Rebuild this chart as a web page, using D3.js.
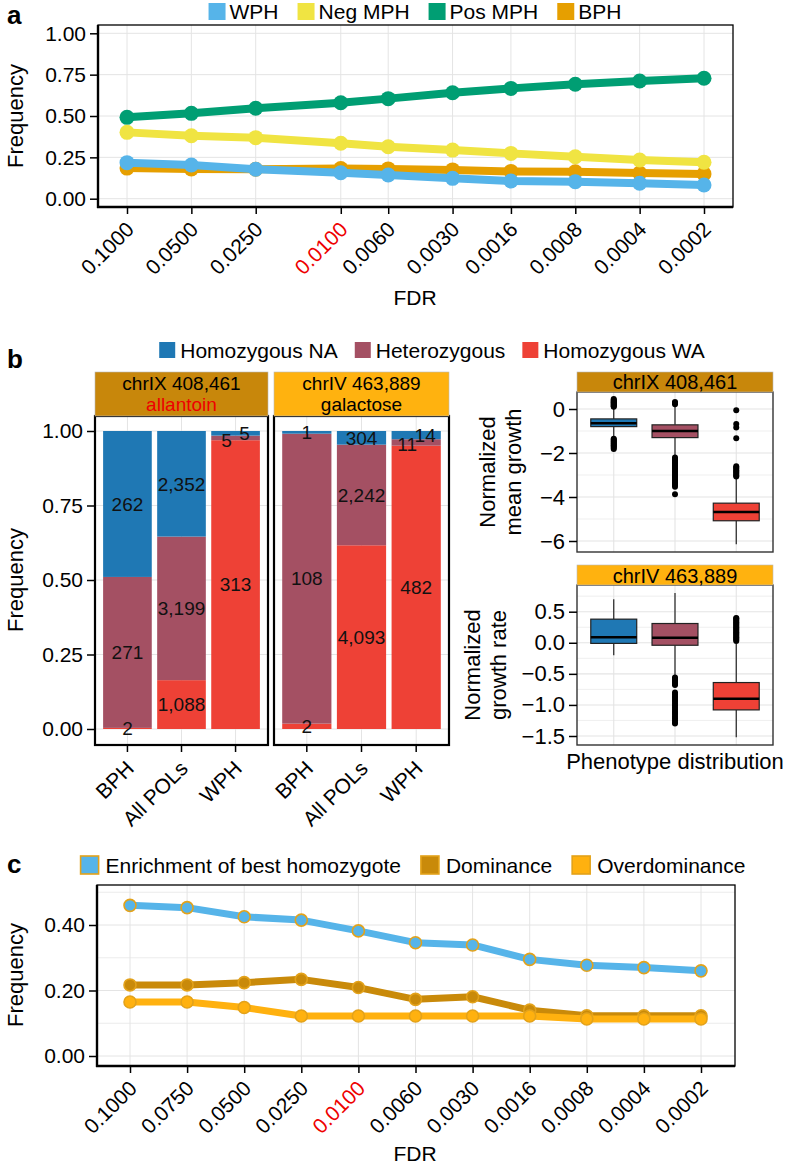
<!DOCTYPE html>
<html><head><meta charset="utf-8">
<script src="https://cdn.jsdelivr.net/npm/d3@7"></script>
<style>
body{margin:0;background:#fff;}
svg{display:block;font-family:"Liberation Sans",Arial,Helvetica,sans-serif;}
</style></head><body>
<svg id="fig" width="788" height="1166"></svg>
<script>
// ================= DATA =================
// Panel a
const fdrA = [0.1, 0.05, 0.025, 0.01, 0.006, 0.003, 0.0016, 0.0008, 0.0004, 0.0002];
const fdrALabels = ["0.1000","0.0500","0.0250","0.0100","0.0060","0.0030","0.0016","0.0008","0.0004","0.0002"];
const seriesA = ["WPH","Neg MPH","Pos MPH","BPH"];
const wphA    = [0.218, 0.204, 0.178, 0.157, 0.143, 0.123, 0.107, 0.103, 0.093, 0.083];
const negMphA = [0.401, 0.381, 0.369, 0.335, 0.314, 0.294, 0.274, 0.254, 0.234, 0.220];
const posMphA = [0.492, 0.516, 0.547, 0.580, 0.605, 0.641, 0.667, 0.692, 0.712, 0.728];
const bphA    = [0.185, 0.180, 0.178, 0.182, 0.180, 0.174, 0.165, 0.163, 0.155, 0.150];
const freqTicksA = [0, 0.25, 0.5, 0.75, 1];

// Panel b (stacked bars, counts)
const genotypes = ["Homozygous NA","Heterozygous","Homozygous WA"];
const barGroups = ["BPH","All POLs","WPH"];
const facetsB = ["chrIX 408,461", "chrIV 463,889"];
const facetsBSub = ["allantoin", "galactose"];
const allantoinNA  = [262, 2352, 5];
const allantoinHet = [271, 3199, 5];
const allantoinWA  = [2, 1088, 313];
const galactoseNA  = [1, 304, 14];
const galactoseHet = [108, 2242, 11];
const galactoseWA  = [2, 4093, 482];
const freqTicksB = [0, 0.25, 0.5, 0.75, 1];

// Panel b right: box plots (chrIX: normalized mean growth)
const mgLow  = [-1.30, -2.12, -6.15];
const mgQ1   = [-0.80, -1.30, -5.08];
const mgMed  = [-0.65, -1.00, -4.68];
const mgQ3   = [-0.45, -0.72, -4.28];
const mgHigh = [0.05, 0.15, -3.12];
const mgOutNA  = [0.10,0.13,0.17,0.20,0.24,0.27,0.31,0.34,0.38,0.41,0.45,-1.35,-1.39,-1.44,-1.48,-1.53,-1.57,-1.62,-1.66,-1.71,-1.76,-1.82];
const mgOutHet = [0.22,0.27,0.32,-2.20,-2.27,-2.34,-2.41,-2.48,-2.55,-2.62,-2.69,-2.76,-2.83,-2.90,-2.97,-3.04,-3.11,-3.18,-3.25,-3.32,-3.39,-3.46,-3.53,-3.88];
const mgOutWA  = [-0.06,-0.68,-0.84,-1.33,-2.60,-2.66,-2.72,-2.78,-2.84,-2.90,-2.96,-3.02,-3.07];
const mgTicks = [0, -2, -4, -6];
// chrIV: normalized growth rate
const grLow  = [-0.20, -0.52, -1.52];
const grQ1   = [-0.01, -0.04, -1.08];
const grMed  = [0.09, 0.08, -0.90];
const grQ3   = [0.38, 0.31, -0.64];
const grHigh = [0.70, 0.80, -0.02];
const grOutNA  = [];
const grOutHet = [-0.56,-0.58,-0.60,-0.62,-0.64,-0.66,-0.68,-0.80,-0.83,-0.86,-0.89,-0.92,-0.95,-0.98,-1.01,-1.04,-1.07,-1.10,-1.13,-1.16,-1.19,-1.22,-1.25,-1.28,-1.30];
const grOutWA  = [0.03,0.05,0.07,0.09,0.11,0.13,0.15,0.17,0.19,0.21,0.23,0.25,0.27,0.29,0.31,0.33,0.35,0.37,0.39,0.40];
const grTicks = [0.5, 0, -0.5, -1, -1.5];

// Panel c
const fdrCLabels = ["0.1000","0.0750","0.0500","0.0250","0.0100","0.0060","0.0030","0.0016","0.0008","0.0004","0.0002"];
const seriesC = ["Enrichment of best homozygote","Dominance","Overdominance"];
const enrichC = [0.460, 0.453, 0.425, 0.415, 0.382, 0.346, 0.339, 0.295, 0.277, 0.270, 0.260];
const domC    = [0.217, 0.217, 0.224, 0.234, 0.209, 0.173, 0.181, 0.140, 0.123, 0.123, 0.123];
const overC   = [0.165, 0.165, 0.148, 0.122, 0.122, 0.122, 0.122, 0.122, 0.113, 0.113, 0.113];
const freqTicksC = [0, 0.2, 0.4];
const freqMinorC = [0.1, 0.3, 0.5];

// ================= STYLE =================
const GRID = "#e4e4e4";
const colA = {"WPH":"#56B4E9","Neg MPH":"#F0E442","Pos MPH":"#009E73","BPH":"#E69F00"};
const colGeno = {"Homozygous NA":"#1F78B4","Heterozygous":"#A45063","Homozygous WA":"#EE4136"};
const stripCols = ["#C8870B", "#FFB20F"];
const colC = {"Enrichment of best homozygote":"#56B4E9","Dominance":"#C98A0A","Overdominance":"#FFB10F"};
const strokeC = "#E3A21A";
const FS_TICK = 21, FS_TITLE = 21, FS_LEG = 21, FS_STRIP = 20, FS_LAB = 19;

const svg = d3.select("#fig");

// ================= HELPERS =================
function hLines(g, vals, y, x0, x1, w) {
  g.append("g").selectAll("line").data(vals).join("line")
    .attr("x1", x0).attr("x2", x1).attr("y1", d => y(d)).attr("y2", d => y(d))
    .attr("stroke", GRID).attr("stroke-width", w || 1);
}
function vLines(g, vals, x, y0, y1, w) {
  g.append("g").selectAll("line").data(vals).join("line")
    .attr("y1", y0).attr("y2", y1).attr("x1", d => x(d)).attr("x2", d => x(d))
    .attr("stroke", GRID).attr("stroke-width", w || 1);
}
function styleAxis(a, fs) {
  a.attr("font-size", null).attr("font-family", null);
  a.select(".domain").remove();
  a.selectAll(".tick line").attr("stroke", "#000").attr("stroke-width", 1.5);
  a.selectAll(".tick text").attr("fill", "#000").style("font-size", fs + "px");
}
function rotLabels(a, dy) {
  a.selectAll(".tick text").attr("text-anchor", "end").attr("x", 0).attr("y", 0)
    .attr("dy", "0.72em").attr("transform", `translate(-3,${dy}) rotate(-45)`);
}
function axisFrame(g, b) {
  g.append("rect").attr("x", b.x0).attr("y", b.y0).attr("width", b.x1 - b.x0).attr("height", b.y1 - b.y0)
    .attr("fill", "none").attr("stroke", "#000").attr("stroke-width", 1.3);
  g.append("line").attr("x1", b.x0).attr("x2", b.x0).attr("y1", b.y0).attr("y2", b.y1 + 1)
    .attr("stroke", "#000").attr("stroke-width", 2.4);
  g.append("line").attr("x1", b.x0 - 1).attr("x2", b.x1).attr("y1", b.y1).attr("y2", b.y1)
    .attr("stroke", "#000").attr("stroke-width", 2.4);
}
function legend(items, fills, strokes, cx, yTop, sq, gap, spacing, fs) {
  const g = svg.append("g");
  let x = 0;
  items.forEach((it, i) => {
    g.append("rect").attr("x", x).attr("y", yTop).attr("width", sq).attr("height", sq)
      .attr("fill", fills[i]).attr("stroke", strokes ? strokes[i] : "none").attr("stroke-width", strokes ? 1.6 : 0);
    const t = g.append("text").attr("x", x + sq + gap).attr("y", yTop + sq / 2).attr("dy", "0.36em")
      .style("font-size", fs + "px").attr("fill", "#000").text(it);
    x += sq + gap + t.node().getComputedTextLength() + spacing;
  });
  const w = x - spacing;
  g.attr("transform", `translate(${cx - w / 2},0)`);
}
function yTitle(lines, x0, cy, fs, lh) {
  lines.forEach((s, i) => {
    svg.append("text").attr("transform", `translate(${x0 + i * lh},${cy}) rotate(-90)`)
      .attr("text-anchor", "middle").style("font-size", fs + "px").attr("fill", "#000").text(s);
  });
}
function panelLetter(s, x, y) {
  svg.append("text").attr("x", x).attr("y", y).style("font-size", "26px").style("font-weight", "bold").attr("fill", "#000").text(s);
}

// ================= PANEL A =================
(function () {
  const b = {x0: 98, x1: 733, y0: 25, y1: 207};
  const x = d3.scaleLog().domain([fdrA[0], fdrA[fdrA.length - 1]]).range([127, 704]);
  const y = d3.scaleLinear().domain([0, 1]).range([198.7, 33.3]);
  const g = svg.append("g");
  hLines(g, freqTicksA, y, b.x0, b.x1);
  vLines(g, fdrA, x, b.y0, b.y1);
  const vals = {"WPH": wphA, "Neg MPH": negMphA, "Pos MPH": posMphA, "BPH": bphA};
  ["BPH", "Pos MPH", "Neg MPH", "WPH"].forEach(k => {
    const pts = fdrA.map((f, i) => [f, vals[k][i]]);
    g.append("path").attr("d", d3.line().x(d => x(d[0])).y(d => y(d[1]))(pts))
      .attr("fill", "none").attr("stroke", colA[k]).attr("stroke-width", 8).attr("stroke-linejoin", "round");
    g.append("g").selectAll("circle").data(pts).join("circle")
      .attr("cx", d => x(d[0])).attr("cy", d => y(d[1])).attr("r", 7.5).attr("fill", colA[k]);
  });
  axisFrame(g, b);
  const ya = g.append("g").attr("transform", `translate(${b.x0},0)`)
    .call(d3.axisLeft(y).tickValues(freqTicksA).tickFormat(d3.format(".2f")).tickSize(8).tickPadding(4));
  styleAxis(ya, FS_TICK);
  const xa = g.append("g").attr("transform", `translate(0,${b.y1})`)
    .call(d3.axisBottom(x).tickValues(fdrA).tickFormat((d, i) => fdrALabels[i]).tickSize(7));
  styleAxis(xa, FS_TICK);
  rotLabels(xa, 13);
  xa.selectAll(".tick text").attr("fill", (d, i) => fdrALabels[i] === "0.0100" ? "#EE0000" : "#000");
  svg.append("text").attr("x", 415).attr("y", 305).attr("text-anchor", "middle")
    .style("font-size", FS_TITLE + "px").text("FDR");
  yTitle(["Frequency"], 23, 116, FS_TITLE + 1, 0);
  legend(seriesA, seriesA.map(s => colA[s]), null, 415, 3, 17, 4, 19, FS_LEG);
  panelLetter("a", 7, 24);
})();

// ================= PANEL B (bars) =================
(function () {
  const y = d3.scaleLinear().domain([0, 1]).range([729, 431]);
  const boxes = [{x0: 95, x1: 268}, {x0: 274, x1: 449}];
  const data = [
    {NA: allantoinNA, Het: allantoinHet, WA: allantoinWA},
    {NA: galactoseNA, Het: galactoseHet, WA: galactoseWA}
  ];
  const top = 416, bot = 745, stripTop = 372;
  boxes.forEach((bx, fi) => {
    const g = svg.append("g");
    const x = d3.scaleBand().domain(barGroups).range([bx.x0, bx.x1]).paddingInner(0.1).paddingOuter(0.15);
    const cx = d => x(d) + x.bandwidth() / 2;
    hLines(g, freqTicksB, y, bx.x0, bx.x1);
    vLines(g, barGroups, cx, top, bot);
    const rows = barGroups.map((grp, i) => {
      const tot = data[fi].NA[i] + data[fi].Het[i] + data[fi].WA[i];
      return {grp, WA: data[fi].WA[i] / tot, Het: data[fi].Het[i] / tot, NA: data[fi].NA[i] / tot,
              cWA: data[fi].WA[i], cHet: data[fi].Het[i], cNA: data[fi].NA[i]};
    });
    const keys = ["WA", "Het", "NA"];
    const gname = {WA: "Homozygous WA", Het: "Heterozygous", NA: "Homozygous NA"};
    const stacked = d3.stack().keys(keys)(rows);
    stacked.forEach(layer => {
      g.append("g").selectAll("rect").data(layer).join("rect")
        .attr("x", d => x(d.data.grp)).attr("width", x.bandwidth())
        .attr("y", d => y(d[1])).attr("height", d => y(d[0]) - y(d[1]))
        .attr("fill", colGeno[gname[layer.key]]);
    });
    stacked.forEach(layer => {
      g.append("g").selectAll("text").data(layer).join("text")
        .attr("x", d => {
          let dx = 0;
          const frac = d[1] - d[0];
          if (d.data.grp === "WPH" && frac < 0.05) dx = layer.key === "Het" ? -9 : (layer.key === "NA" ? 9 : 0);
          return cx(d.data.grp) + dx;
        })
        .attr("y", d => y((d[0] + d[1]) / 2) + (d.data.grp === "WPH" && layer.key === "Het" && (d[1]-d[0]) < 0.05 ? 2 : 0))
        .attr("dy", "0.36em").attr("text-anchor", "middle").style("font-size", FS_LAB + "px").attr("fill", "#111")
        .text(d => d3.format(",")(d.data["c" + layer.key]));
    });
    g.append("rect").attr("x", bx.x0).attr("y", top).attr("width", bx.x1 - bx.x0).attr("height", bot - top)
      .attr("fill", "none").attr("stroke", "#000").attr("stroke-width", 2.2);
    // strip
    g.append("rect").attr("x", bx.x0).attr("y", stripTop).attr("width", bx.x1 - bx.x0).attr("height", top - stripTop)
      .attr("fill", stripCols[fi]).attr("stroke", "#b9b9b9").attr("stroke-width", 0.6);
    const mid = (bx.x0 + bx.x1) / 2;
    g.append("text").attr("x", mid).attr("y", 389.5).attr("text-anchor", "middle").style("font-size", "19px").text(facetsB[fi]);
    g.append("text").attr("x", mid).attr("y", 411).attr("text-anchor", "middle").style("font-size", "19px")
      .attr("fill", fi === 0 ? "#EE0000" : "#000").text(facetsBSub[fi]);
    const xa = g.append("g").attr("transform", `translate(0,${bot})`).call(d3.axisBottom(x).tickSize(7));
    styleAxis(xa, FS_TICK);
    rotLabels(xa, 14);
  });
  const ya = svg.append("g").attr("transform", `translate(95,0)`)
    .call(d3.axisLeft(y).tickValues(freqTicksB).tickFormat(d3.format(".2f")).tickSize(8).tickPadding(4));
  styleAxis(ya, FS_TICK);
  yTitle(["Frequency"], 23, 580, FS_TITLE + 1, 0);
  legend(genotypes, genotypes.map(s => colGeno[s]), null, 432, 342, 16, 5, 17, FS_LEG);
  panelLetter("b", 7, 368);
})();

// ================= PANEL B (box plots) =================
(function () {
  const x0 = 577, x1 = 773;
  const x = d3.scaleBand().domain(genotypes).range([x0, x1]).paddingInner(0.25).paddingOuter(0.225);
  const cx = d => x(d) + x.bandwidth() / 2;
  const panels = [
    {top: 392, bot: 552, stripTop: 372, y: d3.scaleLinear().domain([0, -6]).range([409, 541]),
     ticks: mgTicks, minor: [-1, -3, -5], fmt: d3.format("d"),
     low: mgLow, q1: mgQ1, med: mgMed, q3: mgQ3, high: mgHigh, out: [mgOutNA, mgOutHet, mgOutWA],
     title: facetsB[0], ylab: ["Normalized", "mean growth"], yl: 495, textY: 389},
    {top: 585, bot: 745, stripTop: 565, y: d3.scaleLinear().domain([0.5, -1.5]).range([611.7, 736]),
     ticks: grTicks, minor: [0.75, 0.25, -0.25, -0.75, -1.25], fmt: d3.format(".1f"),
     low: grLow, q1: grQ1, med: grMed, q3: grQ3, high: grHigh, out: [grOutNA, grOutHet, grOutWA],
     title: facetsB[1], ylab: ["Normalized", "growth rate"], yl: 480, textY: 583}
  ];
  panels.forEach((p, pi) => {
    const g = svg.append("g");
    const y = p.y;
    hLines(g, p.minor.filter(v => y(v) > p.top && y(v) < p.bot), y, x0, x1, 0.6);
    hLines(g, p.ticks, y, x0, x1, 1.1);
    vLines(g, genotypes, cx, p.top, p.bot, 1.1);
    genotypes.forEach((gn, i) => {
      const c = cx(gn), hw = x.bandwidth() / 2;
      g.append("line").attr("x1", c).attr("x2", c).attr("y1", y(p.high[i])).attr("y2", y(p.q3[i])).attr("stroke", "#222").attr("stroke-width", 1.2);
      g.append("line").attr("x1", c).attr("x2", c).attr("y1", y(p.q1[i])).attr("y2", y(p.low[i])).attr("stroke", "#222").attr("stroke-width", 1.2);
      g.append("rect").attr("x", c - hw).attr("width", 2 * hw).attr("y", y(p.q3[i])).attr("height", y(p.q1[i]) - y(p.q3[i]))
        .attr("fill", colGeno[gn]).attr("stroke", "#222").attr("stroke-width", 1.2);
      g.append("line").attr("x1", c - hw).attr("x2", c + hw).attr("y1", y(p.med[i])).attr("y2", y(p.med[i])).attr("stroke", "#000").attr("stroke-width", 2.4);
      g.append("g").selectAll("circle").data(p.out[i]).join("circle")
        .attr("cx", c).attr("cy", d => y(d)).attr("r", 3).attr("fill", "#000");
    });
    g.append("rect").attr("x", x0).attr("y", p.top).attr("width", x1 - x0).attr("height", p.bot - p.top)
      .attr("fill", "none").attr("stroke", "#333").attr("stroke-width", 1.4);
    g.append("rect").attr("x", x0).attr("y", p.stripTop).attr("width", x1 - x0).attr("height", p.top - p.stripTop)
      .attr("fill", stripCols[pi]).attr("stroke", "#b9b9b9").attr("stroke-width", 0.6);
    g.append("text").attr("x", (x0 + x1) / 2).attr("y", p.textY).attr("text-anchor", "middle").style("font-size", FS_STRIP + "px").text(p.title);
    const ya = g.append("g").attr("transform", `translate(${x0},0)`)
      .call(d3.axisLeft(y).tickValues(p.ticks).tickFormat(p.fmt).tickSize(8).tickPadding(4));
    styleAxis(ya, FS_TICK + 1);
    yTitle(p.ylab, p.yl, (p.top + p.bot) / 2, 22, 26);
  });
  svg.append("text").attr("x", 675).attr("y", 769).attr("text-anchor", "middle").style("font-size", "22px").text("Phenotype distribution");
})();

// ================= PANEL C =================
(function () {
  const b = {x0: 97, x1: 735, y0: 885, y1: 1066};
  const x = d3.scalePoint().domain(fdrCLabels).range([130, 701]);
  const y = d3.scaleLinear().domain([0, 0.4]).range([1056, 925]);
  const g = svg.append("g");
  hLines(g, freqMinorC, y, b.x0, b.x1, 0.7);
  hLines(g, freqTicksC, y, b.x0, b.x1);
  vLines(g, fdrCLabels, x, b.y0, b.y1);
  const vals = {"Enrichment of best homozygote": enrichC, "Dominance": domC, "Overdominance": overC};
  seriesC.forEach(k => {
    const pts = fdrCLabels.map((f, i) => [f, vals[k][i]]);
    g.append("path").attr("d", d3.line().x(d => x(d[0])).y(d => y(d[1]))(pts))
      .attr("fill", "none").attr("stroke", colC[k]).attr("stroke-width", 7).attr("stroke-linejoin", "round");
    g.append("g").selectAll("circle").data(pts).join("circle")
      .attr("cx", d => x(d[0])).attr("cy", d => y(d[1])).attr("r", 6).attr("fill", colC[k])
      .attr("stroke", strokeC).attr("stroke-width", 1.6);
  });
  axisFrame(g, b);
  const ya = g.append("g").attr("transform", `translate(${b.x0},0)`)
    .call(d3.axisLeft(y).tickValues(freqTicksC).tickFormat(d3.format(".2f")).tickSize(8).tickPadding(4));
  styleAxis(ya, FS_TICK);
  const xa = g.append("g").attr("transform", `translate(0,${b.y1})`)
    .call(d3.axisBottom(x).tickSize(7));
  styleAxis(xa, FS_TICK);
  rotLabels(xa, 13);
  xa.selectAll(".tick text").attr("fill", d => d === "0.0100" ? "#EE0000" : "#000");
  svg.append("text").attr("x", 415).attr("y", 1161).attr("text-anchor", "middle")
    .style("font-size", FS_TITLE + "px").text("FDR");
  yTitle(["Frequency"], 23, 975, FS_TITLE + 1, 0);
  legend(seriesC, seriesC.map(s => colC[s]), seriesC.map(() => strokeC), 413, 856, 18, 7, 20, FS_LEG);
  panelLetter("c", 7, 873);
})();
</script>
</body></html>
